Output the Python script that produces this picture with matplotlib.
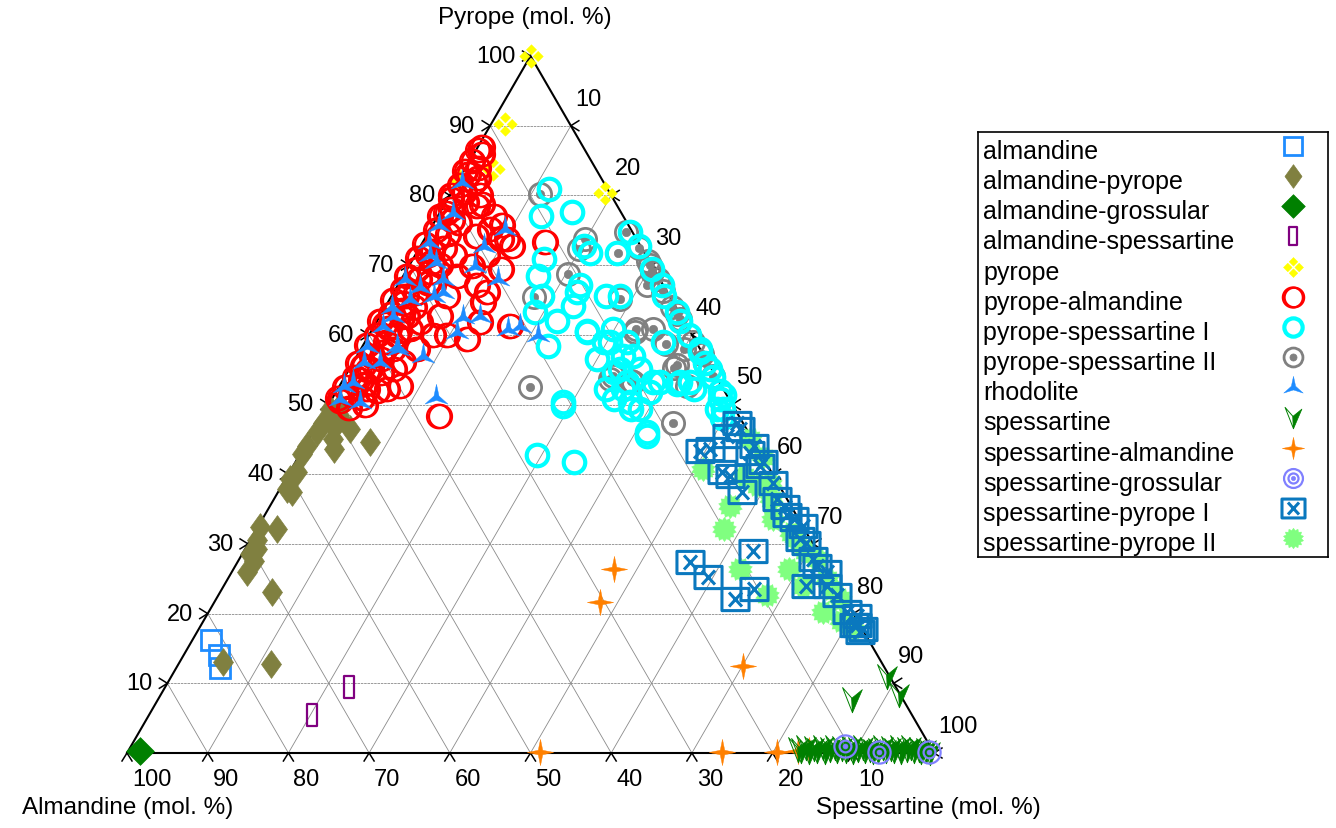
import numpy as np
import matplotlib.pyplot as plt
from matplotlib.path import Path

plt.rcParams['font.family'] = ['Liberation Sans', 'DejaVu Sans']

# garnet compositions, each point is (pyrope, spessartine) in mol. %;
# almandine is whatever is left up to 100
almandine = [(16.2, 2.3), (14.1, 4.3), (12.2, 5.4)]
almandine_pyrope = [(23.1, 6.4), (13.0, 5.4), (12.8, 11.4), (32.1, 2.5), (32.4, 0.3),
                    (29.3, 1.4), (27.6, 1.9), (25.9, 1.9), (37.9, 0.9), (39.3, 0.6),
                    (40.3, 0.9), (37.4, 1.7), (42.9, 0.2), (44.1, 0.2), (46.0, 0.5),
                    (47.4, 0.6), (45.1, 3.0), (43.6, 3.8), (46.5, 4.4), (44.6, 7.8),
                    (47.9, 2.5), (49.4, 0.5), (49.8, 1.5), (48.5, 2.0), (46.8, 2.2),
                    (30.5, 0.8), (28.5, 1.0)]
almandine_grossular = [(0.3, 1.5)]
almandine_spessartine = [(9.4, 22.8), (5.4, 20.2)]
pyrope = [(100.0, 0.0), (90.3, 1.7), (83.8, 3.5), (82.1, 0.2), (80.4, 19.0)]
pyrope_almandine = [
    (87.0, 0.5), (86.0, 1.0), (85.0, 0.3), (84.0, 1.5), (83.0, 0.8), (82.5, 2.2),
    (81.5, 0.5), (80.5, 1.5), (79.5, 0.4), (79.0, 2.5), (78.0, 1.2), (77.0, 0.3),
    (76.5, 2.0), (76.0, 3.2), (75.0, 0.8), (74.5, 2.5), (74.0, 1.5), (73.0, 0.4),
    (72.5, 3.0), (72.0, 1.8), (71.0, 0.6), (70.5, 2.5), (70.0, 3.8), (69.5, 1.2),
    (68.5, 0.4), (68.0, 2.2), (67.5, 3.5), (66.5, 1.0), (66.0, 2.8), (65.0, 0.5),
    (64.5, 2.0), (64.0, 3.6), (63.0, 1.2), (62.5, 2.8), (62.0, 0.4), (61.0, 2.0),
    (60.5, 3.4), (60.0, 1.0), (59.0, 2.6), (58.5, 0.5), (58.0, 4.0), (57.0, 1.8),
    (56.5, 3.2), (56.0, 0.6), (55.0, 2.4), (54.5, 4.2), (54.0, 1.2), (53.0, 3.0),
    (52.5, 0.8), (52.0, 5.0), (51.5, 2.0), (51.0, 3.6), (50.5, 1.2), (50.0, 4.5),
    (78.8, 4.6), (75.7, 8.6), (72.8, 11.3), (73.7, 10.2), (75.2, 7.4), (74.2, 6.2),
    (69.9, 7.8), (71.4, 8.9), (69.4, 11.7), (67.1, 9.8), (66.1, 11.5), (64.7, 11.8),
    (71.4, 4.8), (68.5, 6.6), (65.6, 6.8), (67.1, 4.4), (62.7, 7.4), (59.9, 8.0),
    (59.9, 9.7), (61.8, 5.4), (59.4, 12.4), (61.8, 12.8), (61.3, 16.8), (58.0, 6.9),
    (56.1, 6.2), (52.7, 7.5), (52.2, 6.1), (52.2, 3.6), (48.4, 14.4), (81.9, 2.0),
    (78.5, 4.1), (80.0, 3.8), (77.1, 6.9), (73.8, 9.4), (62.7, 3.3), (59.9, 3.5),
    (55.1, 2.6), (55.1, 5.5), (60.8, 4.7), (73.3, 15.2), (86.5, 0.2), (83.5, 0.1),
    (80.0, 0.2), (77.5, 0.8), (71.5, 1.5), (69.0, 3.0), (65.5, 1.8), (63.5, 2.5),
    (61.5, 1.2), (57.5, 3.0), (55.5, 1.5), (53.5, 2.2), (51.0, 0.6), (49.5, 2.8)]
pyrope_spessartine_1 = [
    (80.9, 11.8), (77.1, 12.8), (77.6, 16.3), (70.9, 16.2), (68.5, 16.7), (65.6, 18.6),
    (63.2, 19.0), (62.0, 22.3), (64.2, 23.2), (66.1, 22.7), (67.1, 22.6), (58.4, 23.0),
    (60.6, 26.7), (71.8, 21.5), (72.8, 20.2), (65.6, 26.6), (65.6, 28.3), (60.8, 29.8),
    (58.9, 29.6), (58.9, 32.5), (55.1, 33.5), (57.0, 34.2), (55.1, 36.0), (52.2, 35.4),
    (50.3, 37.2), (49.4, 38.9), (46.0, 41.4), (50.3, 28.9), (42.7, 29.5), (41.7, 34.5),
    (71.8, 24.8), (74.7, 25.0), (72.8, 27.0), (69.4, 30.4), (67.1, 32.7), (65.6, 33.7),
    (63.2, 36.5), (57.5, 42.3), (55.1, 44.7), (51.3, 48.3), (49.4, 48.4), (58.9, 37.0),
    (53.2, 38.6), (53.2, 41.9), (52.2, 44.1), (54.6, 33.0), (53.2, 35.3), (52.2, 33.3),
    (49.8, 29.1), (45.5, 41.7), (60.4, 26.8), (58.9, 30.4), (57.0, 33.0), (50.8, 34.9),
    (49.4, 37.7), (51.8, 38.9), (53.2, 39.5), (52.9, 41.7), (53.2, 43.2), (58.0, 42.0),
    (50.8, 48.1), (49.4, 49.2), (56.5, 30.0), (48.0, 49.7), (62.0, 37.5), (60.0, 39.6),
    (56.0, 43.6), (54.0, 45.6), (52.0, 47.5)]
pyrope_spessartine_2 = [
    (80.2, 11.1), (73.8, 19.9), (72.3, 19.8), (68.7, 20.3), (65.4, 17.7), (74.7, 24.5),
    (71.7, 25.0), (70.6, 29.3), (69.0, 30.5), (67.1, 30.9), (65.1, 28.5), (66.3, 33.3),
    (62.3, 37.4), (60.4, 32.8), (60.8, 34.8), (58.7, 37.5), (58.0, 40.0), (57.3, 42.6),
    (54.1, 45.6), (55.6, 40.3), (54.1, 33.2), (53.2, 36.1), (52.5, 23.7), (47.4, 44.0),
    (52.7, 43.0), (55.3, 40.1), (60.8, 32.7), (53.7, 33.0), (53.4, 35.8), (72.5, 27.2),
    (70.0, 29.8), (68.0, 31.8), (64.0, 35.5), (63.0, 36.6), (59.0, 40.6), (56.0, 43.6)]
rhodolite = [
    (75.2, 9.3), (72.8, 7.8), (69.9, 8.2), (68.0, 12.0), (68.0, 5.2), (66.1, 6.1),
    (65.6, 5.2), (65.1, 2.5), (68.0, 0.5), (62.7, 12.4), (62.5, 10.4), (60.8, 16.8),
    (60.4, 10.7), (61.3, 1.1), (62.7, 1.6), (58.4, 4.2), (57.0, 8.2), (58.4, 0.5),
    (56.1, 1.3), (56.1, 3.3), (53.2, 1.4), (52.7, 0.5), (50.8, 1.0), (50.3, 3.7),
    (71.4, 1.9), (81.9, 0.5), (77.5, 1.7), (75.7, 0.8), (73.3, 0.8), (51.1, 12.7),
    (58.0, 4.6), (59.9, 21.0), (61.3, 18.1), (70.5, 3.0), (64.0, 0.8), (66.8, 2.9)]
spessartine = [
    (11.1, 88.6), (8.5, 91.4), (7.8, 85.9), (0.6, 82.8), (0.4, 83.3), (0.8, 83.8),
    (0.3, 84.3), (0.7, 84.8), (0.5, 85.3), (0.9, 85.8), (0.3, 86.3), (0.6, 86.8),
    (0.8, 87.3), (0.4, 87.8), (0.7, 88.3), (0.5, 88.8), (0.9, 89.3), (0.3, 89.8),
    (0.6, 90.3), (0.8, 90.8), (0.4, 91.3), (0.6, 91.8), (0.3, 92.3), (0.5, 92.8),
    (0.8, 93.3), (0.4, 93.8), (0.7, 94.3), (0.5, 94.8), (0.9, 95.3), (0.3, 95.8),
    (0.6, 96.3), (0.8, 96.8), (0.4, 97.3), (0.6, 97.8), (0.3, 98.3), (0.5, 98.8),
    (0.2, 99.4)]
spessartine_almandine = [(26.4, 47.1), (21.6, 47.8), (12.5, 70.1), (0.2, 51.1),
                         (0.2, 73.6), (0.2, 80.4), (0.3, 83.0), (0.5, 84.3)]
spessartine_grossular = [(1.0, 88.5), (0.2, 93.1), (0.2, 99.3)]
spessartine_pyrope_1 = [
    (43.4, 49.3), (43.6, 50.4), (47.4, 51.9), (46.5, 52.7), (40.3, 53.6), (39.8, 54.8),
    (37.4, 57.5), (44.1, 55.6), (41.2, 57.8), (38.8, 60.7), (35.3, 63.9), (33.6, 65.8),
    (30.2, 69.1), (30.7, 68.1), (26.9, 72.0), (25.9, 73.8), (22.6, 76.7), (20.2, 79.1),
    (18.3, 80.9), (17.3, 82.2), (24.0, 72.2), (27.4, 56.1), (25.2, 59.4), (22.1, 64.3),
    (29.0, 63.1), (23.5, 65.9), (19.7, 80.6), (34.1, 64.7), (32.6, 67.5), (45.5, 51.6),
    (41.7, 58.0), (43.1, 55.7), (36.4, 62.3), (27.8, 71.1), (24.0, 74.7), (18.3, 81.3),
    (17.8, 82.3)]
spessartine_pyrope_2 = [
    (45.1, 54.6), (40.8, 51.0), (35.5, 57.0), (32.1, 57.9), (26.4, 62.8), (22.6, 68.0),
    (33.6, 63.3), (26.4, 68.8), (24.0, 71.8), (20.2, 76.2), (27.8, 71.6), (25.0, 74.2),
    (22.1, 77.3), (30.7, 67.6), (38.8, 60.3), (38.4, 58.9), (39.8, 56.5), (42.5, 57.5),
    (36.5, 61.5), (29.0, 69.5), (19.0, 79.0), (18.0, 81.0), (23.5, 75.5), (31.5, 66.5)]


def poly(verts):
    verts = np.asarray(verts, float)
    return Path(np.vstack([verts, verts[:1]]), closed=True)


def star(n, r_in, rot=90):
    i = np.arange(2 * n)
    ang = np.deg2rad(rot + i * 180.0 / n)
    r = np.where(i % 2 == 0, 1.0, r_in)
    return poly(np.column_stack([r * np.cos(ang), r * np.sin(ang)]))


def ring(cx, rad):
    t = np.linspace(0, 2 * np.pi, 60)
    return poly(np.column_stack([cx + rad * np.cos(t), rad * np.sin(t)])[:-1])


def four_diamonds():
    verts, codes = [], []
    for cx, cy in [(0, 0.55), (0.55, 0), (0, -0.55), (-0.55, 0)]:
        d = 0.42
        verts += [(cx, cy + d), (cx + d, cy), (cx, cy - d), (cx - d, cy), (cx, cy + d)]
        codes += [Path.MOVETO, Path.LINETO, Path.LINETO, Path.LINETO, Path.CLOSEPOLY]
    return Path(verts, codes)


def boxed_x():
    verts = [(-1, -0.82), (1, -0.82), (1, 0.82), (-1, 0.82), (-1, -0.82),
             (-0.48, -0.52), (0.48, 0.52), (-0.48, 0.52), (0.48, -0.52)]
    codes = [Path.MOVETO, Path.LINETO, Path.LINETO, Path.LINETO, Path.CLOSEPOLY,
             Path.MOVETO, Path.LINETO, Path.MOVETO, Path.LINETO]
    return Path(verts, codes)


diamond_thin = poly([(0, 1), (0.72, 0), (0, -1), (-0.72, 0)])
diamond_wide = poly([(0, 1), (1, 0), (0, -1), (-1, 0)])
slot = poly([(-0.45, -1), (0.45, -1), (0.45, 1), (-0.45, 1)])
arrow_left = poly([(-0.75, 0.9), (0.0, -1.0), (-0.05, 0.1)])
arrow_right = poly([(-0.05, 0.1), (0.0, -1.0), (0.75, 0.75)])

# marker layers for every series: (marker, size, face, edge, line width)
series = [
    ('almandine', almandine,
     [('s', 15, 'none', '#1e8cff', 2.0)]),
    ('almandine-pyrope', almandine_pyrope,
     [(diamond_thin, 20, '#808040', '#808040', 0.5)]),
    ('almandine-grossular', almandine_grossular,
     [(diamond_wide, 20, '#008000', '#008000', 0.5)]),
    ('almandine-spessartine', almandine_spessartine,
     [(slot, 16, 'none', '#800080', 1.6)]),
    ('pyrope', pyrope,
     [(four_diamonds(), 17, '#ffff00', '#ffff00', 0.3)]),
    ('pyrope-almandine', pyrope_almandine,
     [(ring(-0.06, 0.94), 18, 'none', '#ff0000', 1.6),
      (ring(0.08, 0.92), 18, 'none', '#ff0000', 1.6)]),
    ('pyrope-spessartine I', pyrope_spessartine_1,
     [('o', 15.5, 'none', '#00ffff', 3.0)]),
    ('pyrope-spessartine II', pyrope_spessartine_2,
     [('o', 16, 'none', '#808080', 2.0),
      ('o', 6, '#808080', '#808080', 0.5)]),
    ('rhodolite', rhodolite,
     [(star(3, 0.22), 19, '#1e8cff', '#1e8cff', 0.3)]),
    ('spessartine', spessartine,
     [(arrow_left, 19, 'none', '#008000', 0.7),
      (arrow_right, 19, '#008000', '#008000', 0.5)]),
    ('spessartine-almandine', spessartine_almandine,
     [(star(4, 0.24), 19, '#ff8000', '#ff8000', 0.3)]),
    ('spessartine-grossular', spessartine_grossular,
     [('o', 16, 'none', '#8080ff', 1.6),
      ('o', 8.5, 'none', '#8080ff', 1.6),
      ('o', 3.5, '#8080ff', '#8080ff', 0.5)]),
    ('spessartine-pyrope I', spessartine_pyrope_1,
     [(boxed_x(), 19.5, 'none', '#0a78be', 2.2)]),
    ('spessartine-pyrope II', spessartine_pyrope_2,
     [(star(14, 0.78), 17.5, '#80ff80', '#80ff80', 0.3)]),
]
draw_order = ['almandine', 'almandine-pyrope', 'almandine-grossular', 'almandine-spessartine',
              'pyrope', 'pyrope-almandine', 'pyrope-spessartine II', 'pyrope-spessartine I',
              'rhodolite', 'spessartine-almandine', 'spessartine', 'spessartine-grossular',
              'spessartine-pyrope II', 'spessartine-pyrope I']

W, Hpx = 1336, 829
H = np.sqrt(3) / 2
fig = plt.figure(figsize=(W / 100, Hpx / 100), dpi=100)
ax = fig.add_axes([127 / W, (Hpx - 754) / Hpx, 807 / W, 697 / Hpx])
ax.set_xlim(0, 100)
ax.set_ylim(0, 100 * H)
ax.axis('off')
PX = 100 / 807          # data units per pixel, horizontal
PY = 100 * H / 697      # data units per pixel, vertical


def to_xy(pts):
    p = np.array([q[0] for q in pts])
    s = np.array([q[1] for q in pts])
    return s + p / 2, p * H


# grid
for k in range(10, 100, 10):
    kw = dict(color='#8a8a8a', lw=0.6, zorder=1)
    ax.plot([k / 2, k / 2 + 100 - k], [k * H, k * H], ls=(0, (3, 1)), **kw)        # pyrope = k
    ax.plot([k, k + (100 - k) / 2], [0, (100 - k) * H], **kw)                        # spessartine = k
    ax.plot([100 - k, (100 - k) / 2], [0, (100 - k) * H], **kw)                      # almandine = k

# triangle
ax.plot([0, 100, 50, 0], [0, 0, 100 * H, 0], color='black', lw=1.5, zorder=2,
        clip_on=False, solid_joinstyle='miter')

# ticks and labels
pt = 0.72
tk = dict(color='black', lw=1.1, zorder=2, clip_on=False)
for k in range(10, 101, 10):
    x0, y0 = k / 2, k * H
    ax.plot([x0 - 8 * PX, x0, x0 - 8 * PX], [y0 + 5 * PY, y0, y0 - 5 * PY], **tk)
    ax.annotate(str(k), (x0, y0), xytext=(-15 * pt, 0), textcoords='offset points',
                ha='right', va='center', fontsize=17)
    x0, y0 = 100 - k, 0
    ax.plot([x0 - 5 * PX, x0, x0 + 5 * PX], [-8 * PY, 0, -8 * PY], **tk)
    ax.annotate(str(k), (x0, y0), xytext=(5 * pt, -26 * pt), textcoords='offset points',
                ha='left', va='center', fontsize=17)
    x0, y0 = k + (100 - k) / 2, (100 - k) * H
    ax.plot([x0 + 8 * PX, x0, x0 + 8 * PX], [y0 + 5 * PY, y0, y0 - 5 * PY], **tk)
    ax.annotate(str(k), (x0, y0), xytext=(4 * pt, 27 * pt), textcoords='offset points',
                ha='left', va='center', fontsize=17)

fig.text(525 / W, 1 - 18 / Hpx, 'Pyrope (mol. %)', ha='center', va='center', fontsize=17.5)
fig.text(128 / W, 1 - 808 / Hpx, 'Almandine (mol. %)', ha='center', va='center', fontsize=17.5)
fig.text(928 / W, 1 - 808 / Hpx, 'Spessartine (mol. %)', ha='center', va='center', fontsize=17.5)


def draw(axis, x, y, layers, scale, z):
    for m, ms, fc, ec, lw in layers:
        axis.plot(x, y, ls='none', marker=m, markersize=ms * scale, markerfacecolor=fc,
                  markeredgecolor=ec, markeredgewidth=lw, zorder=z, clip_on=False)


style = {name: (pts, layers) for name, pts, layers in series}
for z, name in enumerate(draw_order):
    pts, layers = style[name]
    x, y = to_xy(pts)
    draw(ax, x, y, layers, 1.0, 3 + z)

# legend box, pixel coordinates measured from its top-left corner
lax = fig.add_axes([978 / W, (Hpx - 558) / Hpx, 350 / W, 425 / Hpx])
lax.set_xlim(0, 350)
lax.set_ylim(425, 0)
lax.set_xticks([])
lax.set_yticks([])
for sp in lax.spines.values():
    sp.set_linewidth(1.2)
for i, (name, pts, layers) in enumerate(series):
    yrow = 14 + 30.15 * i
    lax.text(5, yrow + 12, name, ha='left', va='baseline', fontsize=18)
    draw(lax, [315], [yrow], layers, 0.85, 3)

fig.savefig('out.png', dpi=100)
